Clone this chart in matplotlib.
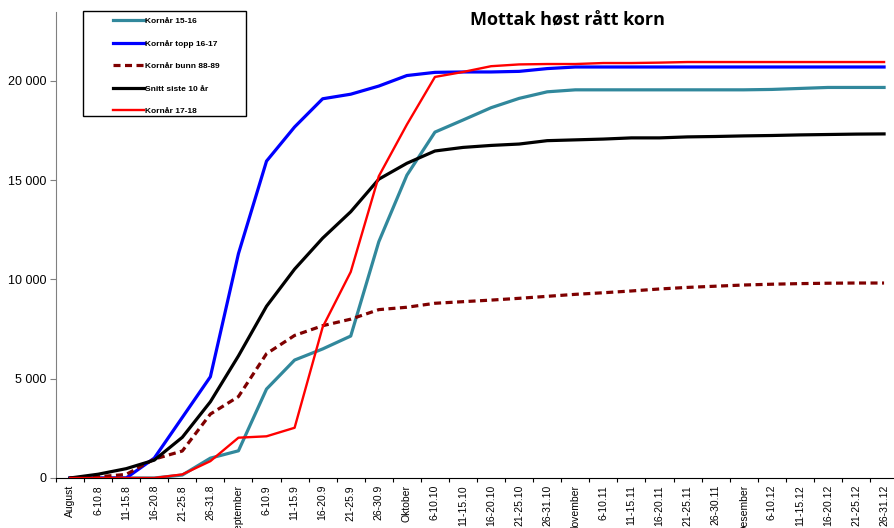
import matplotlib
matplotlib.use("Agg")
import matplotlib.pyplot as plt
from matplotlib.patches import Rectangle
from matplotlib.ticker import FuncFormatter, FixedLocator

periods = ["August", "6-10.8", "11-15.8", "16-20.8", "21-25.8", "26-31.8",
           "September", "6-10.9", "11-15.9", "16-20.9", "21-25.9", "26-30.9",
           "Oktober", "6-10.10", "11-15.10", "16-20.10", "21-25.10", "26-31.10",
           "November", "6-10.11", "11-15.11", "16-20.11", "21-25.11", "26-30.11",
           "Desember", "6-10.12", "11-15.12", "16-20.12", "21-25.12", "26-31.12"]

korn_15_16 = [0, 0, 0, 0, 150, 1000, 1370, 4480, 5940, 6500, 7150, 11900,
              15250, 17420, 18030, 18650, 19120, 19450, 19550, 19550, 19550, 19550,
              19550, 19550, 19550, 19570, 19620, 19670, 19670, 19670]
topp_16_17 = [0, 0, 0, 1000, 3050, 5100, 11300, 15960, 17680, 19100, 19330, 19740,
              20270, 20430, 20450, 20450, 20480, 20620, 20700, 20700, 20700, 20700,
              20700, 20700, 20700, 20700, 20700, 20700, 20700, 20700]
bunn_88_89 = [0, 60, 180, 950, 1360, 3220, 4100, 6260, 7180, 7670, 8000, 8480,
              8600, 8800, 8880, 8960, 9050, 9150, 9250, 9330, 9420, 9520,
              9600, 9660, 9720, 9760, 9790, 9810, 9820, 9820]
snitt_10 = [0, 190, 470, 900, 2050, 3840, 6150, 8650, 10520, 12080, 13410, 15050,
            15850, 16470, 16650, 16750, 16820, 16990, 17030, 17070, 17130, 17130,
            17180, 17200, 17230, 17250, 17280, 17300, 17320, 17330]
korn_17_18 = [0, 0, 0, 0, 180, 850, 2030, 2100, 2530, 7600, 10380, 15200,
              17800, 20200, 20450, 20740, 20830, 20850, 20850, 20900, 20900, 20920,
              20950, 20950, 20950, 20950, 20950, 20950, 20950, 20950]

fig = plt.figure(figsize=(8.95, 5.28), dpi=100)
ax = fig.add_axes([56 / 895, 50 / 528, 839 / 895, 466 / 528])

x = list(range(len(periods)))
l1, = ax.plot(x, korn_15_16, color="#31889c", lw=2.3, label="Kornår 15-16")
l2, = ax.plot(x, topp_16_17, color="#0000ff", lw=2.3, label="Kornår topp 16-17")
l3, = ax.plot(x, bunn_88_89, color="#7f0000", lw=2.3, dashes=(2.2, 1.4), label="Kornår bunn 88-89")
l4, = ax.plot(x, snitt_10, color="black", lw=2.3, label="Snitt siste 10 år")
l5, = ax.plot(x, korn_17_18, color="#ff0000", lw=1.7, label="Kornår 17-18")

ax.set_xlim(-0.5, -0.5 + 839 / 28.07)
ax.set_ylim(0, 23470)

for side in ["top", "right"]:
    ax.spines[side].set_visible(False)
ax.spines["left"].set_color("#808080")
ax.spines["bottom"].set_color("black")

ax.set_yticks([0, 5000, 10000, 15000, 20000])
ax.yaxis.set_major_formatter(FuncFormatter(lambda v, p: f"{int(v):,}".replace(",", " ")))
ax.tick_params(axis="y", length=4, color="#808080", labelsize=9, pad=3)
for t in ax.get_yticklabels():
    t.set_fontfamily("Liberation Sans")

ax.xaxis.set_major_locator(FixedLocator([i - 0.5 for i in range(len(periods) + 1)]))
ax.xaxis.set_major_formatter(FuncFormatter(lambda v, p: ""))
ax.xaxis.set_minor_locator(FixedLocator(x))
ax.set_xticklabels(periods, minor=True, rotation=90, fontsize=7.5, family="Liberation Sans")
ax.tick_params(axis="x", which="major", length=3, direction="out")
ax.tick_params(axis="x", which="minor", length=0, pad=5)

fig.text(567 / 895, 1 - 20 / 528, "Mottak høst rått korn", ha="center", va="center",
         fontsize=13, fontweight="bold", family="Open Sans")

fig.patches.append(Rectangle((83 / 895, 1 - 116 / 528), 163 / 895, 105 / 528,
                             transform=fig.transFigure, fill=False, edgecolor="black", lw=1))
leg = fig.legend(handles=[l1, l2, l3, l4, l5], loc="upper left",
                 bbox_to_anchor=(106 / 895, 1 - 10 / 528), frameon=False,
                 prop={"family": "Liberation Sans", "weight": "bold", "size": 6},
                 handlelength=3.6, handletextpad=0.2, labelspacing=1.75)

fig.savefig("out.png", dpi=100)
